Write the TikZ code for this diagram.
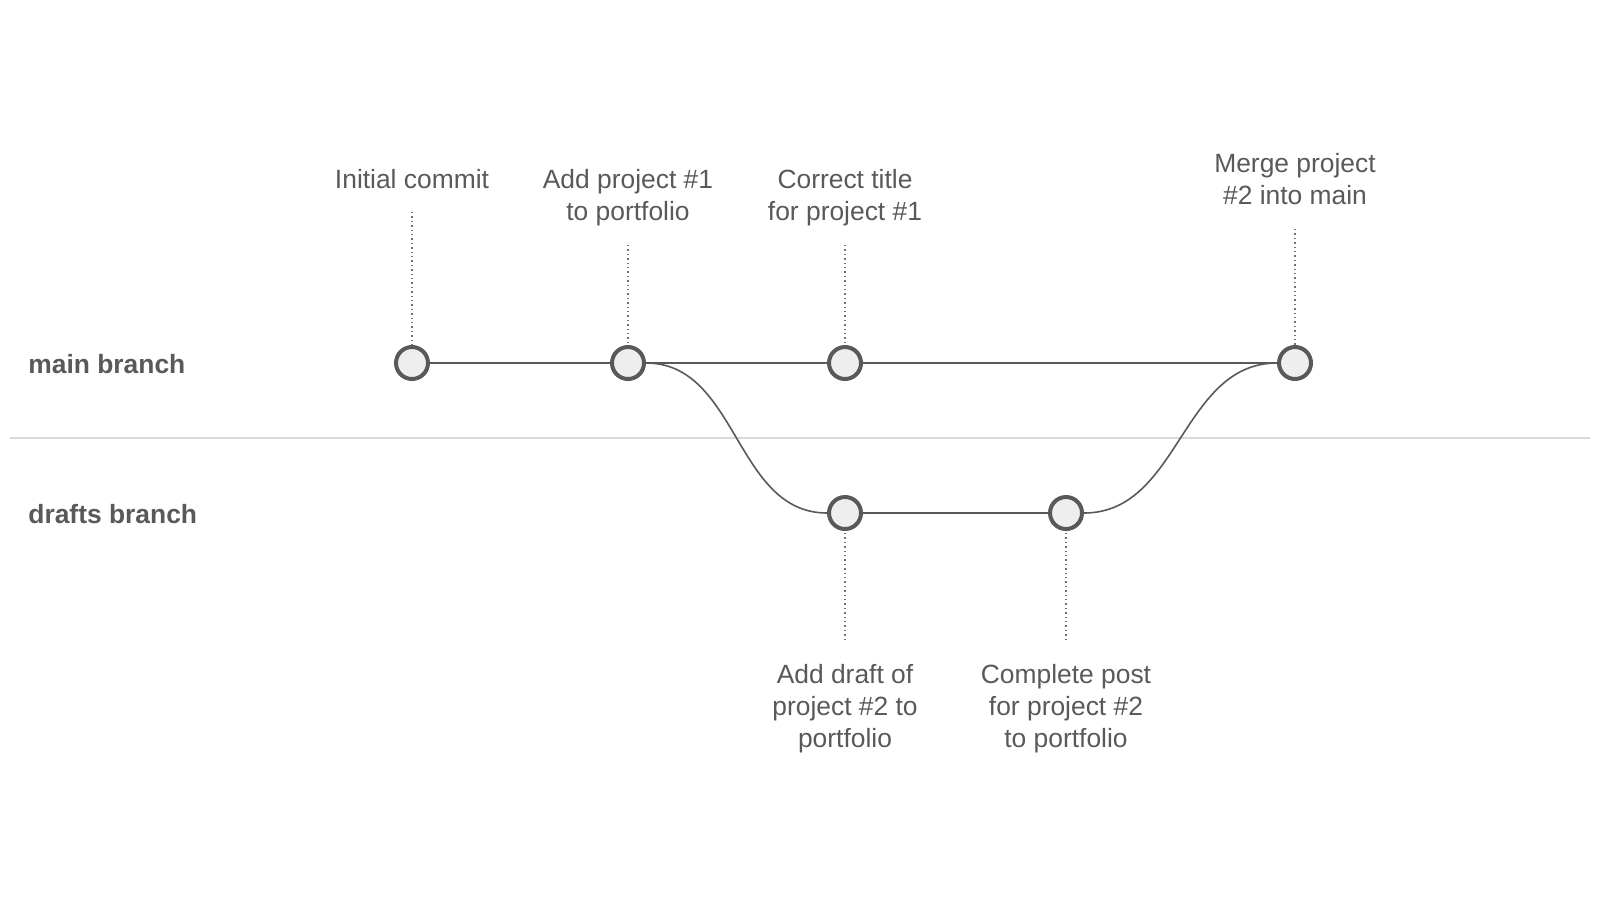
\documentclass[tikz,border=0pt]{standalone}
\usepackage{fontspec}
\setmainfont{Liberation Sans}
\usetikzlibrary{positioning}

\definecolor{gitgray}{HTML}{595959}
\definecolor{nodefill}{HTML}{EEEEEE}
\definecolor{dotgray}{HTML}{707070}
\definecolor{rulegray}{HTML}{D9D9D9}

\begin{document}
\begin{tikzpicture}[x=0.5pt, y=-0.5pt,
    commit/.style = {circle, draw=gitgray, line width=2pt, fill=nodefill, minimum size=16pt, inner sep=0pt},
    msg/.style = {text=gitgray, align=center, anchor=base, font=\fontsize{13.2}{16}\selectfont},
    branch/.style = {text=gitgray, anchor=base west, inner sep=0pt, font=\fontsize{13.2}{16}\selectfont\bfseries},
    guide/.style = {draw=dotgray, line width=0.7pt, dash pattern=on 0.7pt off 1.5pt},
    edge/.style = {draw=gitgray, line width=1pt}]
                \useasboundingbox (0, 0) rectangle (1600, 900);

                \draw [rulegray, line width=0.8pt] (10, 438) -- (1590, 438);

                \node[branch] at (28, 373) (mainlbl) {main branch};
                \node[branch] at (28, 523) (draftslbl) {drafts branch};

                \node[msg] at (412, 188) (m1) {Initial commit};
                \node[msg] at (628, 220) (m2) {Add project \#1\\to portfolio};
                \node[msg] at (845, 220) (m3) {Correct title\\for project \#1};
                \node[msg] at (1295, 204) (m4) {Merge project\\\#2 into main};
                \node[msg] at (845, 747) (m5) {Add draft of\\project \#2 to\\portfolio};
                \node[msg] at (1066, 747) (m6) {Complete post\\for project \#2\\to portfolio};

                \coordinate (g1) at (412, 212);
                \coordinate (g2) at (628, 245);
                \coordinate (g3) at (845, 245);
                \coordinate (g4) at (1295, 229);
                \coordinate (g5) at (845, 640);
                \coordinate (g6) at (1066, 640);

                \node[commit] at (412, 363) (c1) {};
                \node[commit] at (628, 363) (c2) {};
                \node[commit] at (845, 363) (c3) {};
                \node[commit] at (1295, 363) (c4) {};
                \node[commit] at (845, 513) (d1) {};
                \node[commit] at (1066, 513) (d2) {};

                \draw [edge] (c1) -- (c2);
                \draw [edge] (c2) -- (c3);
                \draw [edge] (c3) -- (c4);
                \draw [edge] (d1) -- (d2);
                \draw [edge, line width=0.8pt] (c2.east) to[out=0, in=180] (d1.west);
                \draw [edge, line width=0.8pt] (d2.east) to[out=0, in=180] (c4.west);

                \draw [guide] (g1) -- (c1);
                \draw [guide] (g2) -- (c2);
                \draw [guide] (g3) -- (c3);
                \draw [guide] (g4) -- (c4);
                \draw [guide] (g5) -- (d1);
                \draw [guide] (g6) -- (d2);
            \end{tikzpicture}
\end{document}
